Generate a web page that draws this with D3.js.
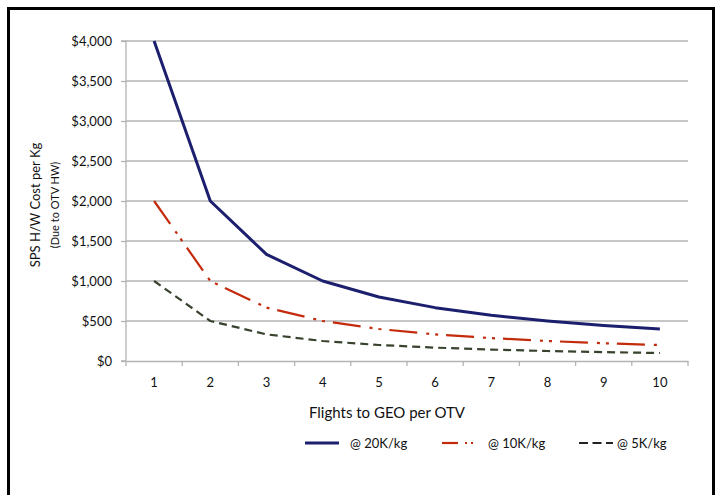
<!DOCTYPE html>
<html><head><meta charset="utf-8">
<script src="https://cdn.jsdelivr.net/npm/d3@7"></script>
<style>body{margin:0;background:#fff}svg{display:block}text{font-family:Lato,"Open Sans",sans-serif;fill:#111}</style>
</head><body><svg id="c" width="717" height="495"></svg>
<script>
const flights = [1,2,3,4,5,6,7,8,9,10];
const yTicks = [0,500,1000,1500,2000,2500,3000,3500,4000];
const seriesNames = ["@ 20K/kg","@ 10K/kg","@ 5K/kg"];
const cost20K = [4000,2000,1333,1000,800,667,571,500,444,400];
const cost10K = [2000,1000,667,500,400,333,286,250,222,200];
const cost5K  = [1000,500,333,250,200,167,143,125,111,100];
const seriesValues = [cost20K,cost10K,cost5K];
const styles = [
  {color:"#1c1f6e", width:3, dash:null},
  {color:"#c42a0c", width:2.2, dash:"28,9,3,6,3,8"},
  {color:"#37432e", width:2.2, dash:"8,5"}
];

const svg = d3.select("#c");
svg.append("rect").attr("x",8.5).attr("y",8.5).attr("width",705).attr("height",500)
  .attr("fill","none").attr("stroke","#000").attr("stroke-width",3);

const L=126,R=688,T=41,B=361;
const x = d3.scaleBand().domain(flights).range([L,R]);
const y = d3.scaleLinear().domain([0,4000]).range([B,T]);

// grid
svg.append("g").selectAll("line").data(yTicks.filter(d=>d>0)).join("line")
  .attr("x1",L).attr("x2",R).attr("y1",d=>y(d)).attr("y2",d=>y(d))
  .attr("stroke","#b3b3b3").attr("stroke-width",1.3);

// y axis
const ya = svg.append("g").attr("transform",`translate(${L},0)`)
  .call(d3.axisLeft(y).tickValues(yTicks).tickSize(5).tickPadding(9)
    .tickFormat(d=>"$"+d3.format(",")(d)));
ya.select(".domain").attr("stroke","#b3b3b3").attr("stroke-width",1.3).attr("d",`M-5,${T}H0V${B}H-5`);
ya.selectAll(".tick line").attr("stroke","#b3b3b3").attr("stroke-width",1.3);
ya.selectAll(".tick text").attr("font-size",13).attr("font-family","Lato,sans-serif").attr("fill","#111");

// x axis
const xa = svg.append("g").attr("transform",`translate(0,${B})`)
  .call(d3.axisBottom(x).tickSize(0).tickPadding(17));
xa.select(".domain").attr("stroke","#b3b3b3").attr("stroke-width",1.3);
xa.selectAll(".tick text").attr("font-size",13).attr("font-family","Lato,sans-serif").attr("fill","#111");
const edges = flights.map(f=>x(f)).concat([R]);
xa.append("g").selectAll("line").data(edges).join("line")
  .attr("x1",d=>d).attr("x2",d=>d).attr("y1",0).attr("y2",5)
  .attr("stroke","#b3b3b3").attr("stroke-width",1.3);

// lines
const line = d3.line().x((d,i)=>x(flights[i])+x.bandwidth()/2).y(d=>y(d));
seriesValues.forEach((vals,k)=>{
  const s = styles[k];
  const p = svg.append("path").datum(vals).attr("d",line).attr("fill","none")
    .attr("stroke",s.color).attr("stroke-width",s.width).attr("stroke-linejoin","round");
  if (s.dash) p.attr("stroke-dasharray",s.dash);
});

// axis titles
svg.append("text").attr("transform","translate(40,205) rotate(-90)").attr("text-anchor","middle")
  .attr("font-size",13).text("SPS H/W Cost per Kg");
svg.append("text").attr("transform","translate(59,205) rotate(-90)").attr("text-anchor","middle")
  .attr("font-size",11).text("(Due to OTV HW)");
svg.append("text").attr("x",387).attr("y",418).attr("text-anchor","middle")
  .attr("font-size",15).text("Flights to GEO per OTV");

// legend
const legX = [305,442,579];
const legTxt = [350,488,617];
const legLen = [34,28,34];
const ly = 443;
seriesNames.forEach((n,k)=>{
  const s = styles[k];
  const g = svg.append("g");
  if (k===1){
    g.append("line").attr("x1",legX[k]).attr("x2",legX[k]+16).attr("y1",ly).attr("y2",ly)
      .attr("stroke",s.color).attr("stroke-width",s.width);
    [23,29].forEach(o=>g.append("line").attr("x1",legX[k]+o).attr("x2",legX[k]+o+2).attr("y1",ly).attr("y2",ly)
      .attr("stroke",s.color).attr("stroke-width",s.width));
  } else {
    const l = g.append("line").attr("x1",legX[k]).attr("x2",legX[k]+legLen[k]).attr("y1",ly).attr("y2",ly)
      .attr("stroke",k===2?"#222":s.color).attr("stroke-width",s.width);
    if (s.dash) l.attr("stroke-dasharray","9,4.5");
  }
  g.append("text").attr("x",legTxt[k]).attr("y",ly+5).attr("font-size",13).text(n);
});
</script></body></html>
